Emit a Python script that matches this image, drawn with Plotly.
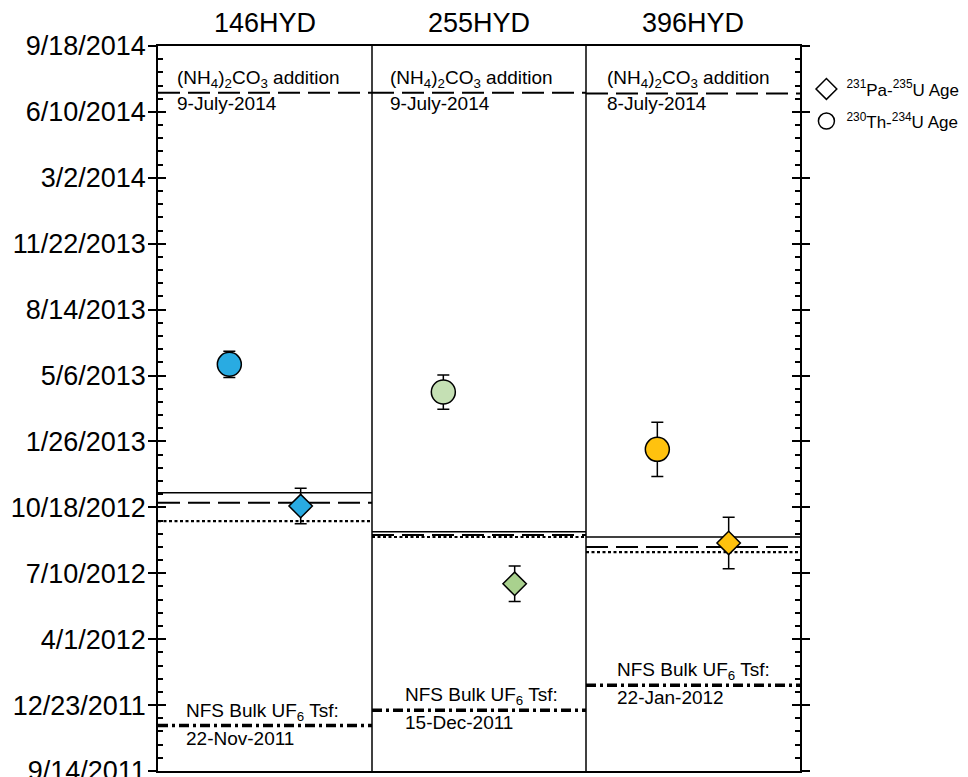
import plotly.graph_objects as go
from datetime import datetime, date

# ---------------- data ----------------
SAMPLES = ["146HYD", "255HYD", "396HYD"]
TH_AGE = ["2013-05-23", "2013-04-11", "2013-01-14"]      # 230Th-234U age
TH_ERR_DAYS = [20, 26, 41]
PA_AGE = ["2012-10-20", "2012-06-24", "2012-08-25"]      # 231Pa-235U age
PA_ERR_DAYS = [27, 27, 39]
SOLID_LINE = ["2012-11-09", "2012-09-11", "2012-09-03"]
DASHED_LINE = ["2012-10-25", "2012-09-06", "2012-08-19"]
DOTTED_LINE = ["2012-09-27", "2012-09-03", "2012-08-11"]
ADDITION = ["2014-07-09", "2014-07-09", "2014-07-08"]
ADDITION_LABELS = ["9-July-2014", "9-July-2014", "8-July-2014"]
TSF = ["2011-11-22", "2011-12-15", "2012-01-22"]
TSF_LABELS = ["22-Nov-2011", "15-Dec-2011", "22-Jan-2012"]
TH_COLORS = ["#29ABE2", "#C5E0B4", "#FFC20E"]
PA_COLORS = ["#29ABE2", "#A9D18E", "#FFC20E"]
TICK_LABELS = ["9/14/2011", "12/23/2011", "4/1/2012", "7/10/2012", "10/18/2012",
               "1/26/2013", "5/6/2013", "8/14/2013", "11/22/2013", "3/2/2014",
               "6/10/2014", "9/18/2014"]

# layout-only constants (text offsets inside each panel, fraction of panel width)
ADD_TEXT_X = [0.08, 0.075, 0.09]
TSF_TEXT_X = [0.12, 0.145, 0.135]

FONT = "Liberation Sans, Arial, Helvetica, sans-serif"
ORIGIN = datetime.strptime(TICK_LABELS[0], "%m/%d/%Y").date()


def days(s):
    """date string -> days since the axis origin"""
    return (date.fromisoformat(s) - ORIGIN).days


tickvals = [(datetime.strptime(t, "%m/%d/%Y").date() - ORIGIN).days for t in TICK_LABELS]

fig = go.Figure()

# horizontal reference lines within each panel
for i in range(len(SAMPLES)):
    xs = [i, i + 1]
    fig.add_trace(go.Scatter(x=xs, y=[days(ADDITION[i])] * 2, mode="lines", showlegend=False,
                             line=dict(color="black", width=2, dash="22px,8px"), hoverinfo="skip"))
    fig.add_trace(go.Scatter(x=xs, y=[days(TSF[i])] * 2, mode="lines", showlegend=False,
                             line=dict(color="black", width=3.5, dash="10px,4px,3px,4px"), hoverinfo="skip"))
    fig.add_trace(go.Scatter(x=xs, y=[days(SOLID_LINE[i])] * 2, mode="lines", showlegend=False,
                             line=dict(color="black", width=1.5), hoverinfo="skip"))
    fig.add_trace(go.Scatter(x=xs, y=[days(DASHED_LINE[i])] * 2, mode="lines", showlegend=False,
                             line=dict(color="black", width=2, dash="22px,8px"), hoverinfo="skip"))
    fig.add_trace(go.Scatter(x=xs, y=[days(DOTTED_LINE[i])] * 2, mode="lines", showlegend=False,
                             line=dict(color="black", width=2.2, dash="3px,2.5px"), hoverinfo="skip"))

# data points
for i in range(len(SAMPLES)):
    fig.add_trace(go.Scatter(
        x=[i + 1 / 3], y=[days(TH_AGE[i])], mode="markers", showlegend=False,
        marker=dict(symbol="circle", size=24, color=TH_COLORS[i], line=dict(color="black", width=1.5)),
        error_y=dict(type="data", array=[TH_ERR_DAYS[i]], color="black", thickness=1.5, width=6)))
    fig.add_trace(go.Scatter(
        x=[i + 2 / 3], y=[days(PA_AGE[i])], mode="markers", showlegend=False,
        marker=dict(symbol="diamond", size=18, color=PA_COLORS[i], line=dict(color="black", width=1.5)),
        error_y=dict(type="data", array=[PA_ERR_DAYS[i]], color="black", thickness=1.5, width=6)))

# legend entries
fig.add_trace(go.Scatter(x=[None], y=[None], mode="markers", name="<sup>231</sup>Pa-<sup>235</sup>U Age",
                         legendgroup="pa",
                         marker=dict(symbol="diamond-open", size=18, color="black", line=dict(width=1.5))))
fig.add_trace(go.Scatter(x=[None], y=[None], mode="markers", name="<sup>230</sup>Th-<sup>234</sup>U Age",
                         legendgroup="th",
                         marker=dict(symbol="circle-open", size=18, color="black", line=dict(width=1.5))))

# annotations
ann = []
for i, s in enumerate(SAMPLES):
    ann.append(dict(x=i + 0.5, y=1, xref="x", yref="paper", text=s, showarrow=False,
                    yanchor="bottom", yshift=6, font=dict(size=27, color="black")))
    ann.append(dict(x=i + ADD_TEXT_X[i], y=days(ADDITION[i]), xref="x", yref="y", xanchor="left",
                    yanchor="bottom", text="(NH<sub>4</sub>)<sub>2</sub>CO<sub>3</sub> addition",
                    showarrow=False, yshift=0, font=dict(size=19, color="black")))
    ann.append(dict(x=i + ADD_TEXT_X[i], y=days(ADDITION[i]), xref="x", yref="y", xanchor="left",
                    yanchor="top", text=ADDITION_LABELS[i], showarrow=False, yshift=2,
                    font=dict(size=19, color="black")))
    ann.append(dict(x=i + TSF_TEXT_X[i], y=days(TSF[i]), xref="x", yref="y", xanchor="left",
                    yanchor="bottom", text="NFS Bulk UF<sub>6</sub> Tsf:", showarrow=False, yshift=0,
                    font=dict(size=19, color="black")))
    ann.append(dict(x=i + TSF_TEXT_X[i], y=days(TSF[i]), xref="x", yref="y", xanchor="left",
                    yanchor="top", text=TSF_LABELS[i], showarrow=False, yshift=0,
                    font=dict(size=19, color="black")))

shapes = [dict(type="line", xref="x", yref="paper", x0=b, x1=b, y0=0, y1=1,
               line=dict(color="black", width=1.5)) for b in range(1, len(SAMPLES))]

yrange = [tickvals[0], tickvals[-1]]
fig.update_layout(
    width=960, height=769,
    margin=dict(l=150, r=168, t=38, b=6, autoexpand=False),
    paper_bgcolor="white", plot_bgcolor="white",
    font=dict(family=FONT, color="black"),
    showlegend=True,
    legend=dict(x=1.01, y=0.965, xanchor="left", yanchor="top", font=dict(size=17),
                bgcolor="rgba(0,0,0,0)", itemwidth=30, tracegroupgap=7),
    annotations=ann, shapes=shapes,
    xaxis=dict(range=[0, len(SAMPLES)], showticklabels=False, ticks="", showgrid=False, zeroline=False,
               showline=True, mirror=True, linecolor="black", linewidth=1.5),
    yaxis=dict(range=yrange, tickvals=tickvals, ticktext=TICK_LABELS,
               ticks="outside", ticklen=8, tickwidth=1.5, tickcolor="black",
               showline=True, linecolor="black", linewidth=1.5, mirror="ticks",
               ticklabeloverflow="allow", ticklabelstandoff=-3,
               showgrid=False, zeroline=False, tickfont=dict(size=27, color="black")),
    yaxis2=dict(range=yrange, overlaying="y", side="left", tickvals=tickvals,
                showticklabels=False, ticks="inside", ticklen=8, tickwidth=1.5, tickcolor="black",
                mirror="ticks", showline=False, showgrid=False, zeroline=False,
                minor=dict(ticks="inside", ticklen=5, tickwidth=1.5, tickcolor="black",
                           dtick=20, tick0=0, showgrid=False)),
)
fig.add_trace(go.Scatter(x=[None], y=[None], yaxis="y2", showlegend=False, hoverinfo="skip"))

fig.write_html("out.html")
